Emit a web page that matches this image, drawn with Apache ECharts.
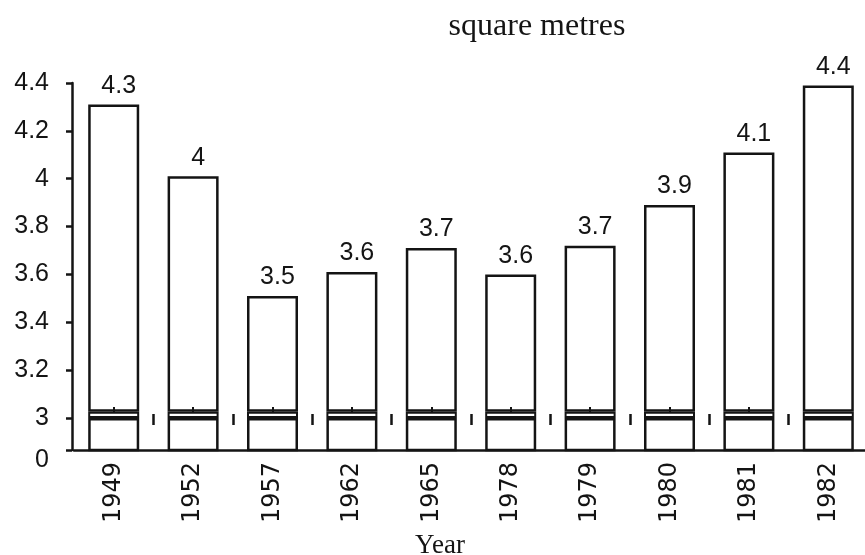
<!DOCTYPE html>
<html>
<head>
<meta charset="utf-8">
<script src="https://cdn.jsdelivr.net/npm/echarts@6/dist/echarts.min.js"></script>
<style>html,body{margin:0;padding:0;background:#fff;}#c{width:865px;height:555px;}</style>
</head>
<body>
<div id="c"></div>
<script>
// ---- data ----
const categories = ['1949', '1952', '1957', '1962', '1965', '1978', '1979', '1980', '1981', '1982'];
const values = [4.31, 4.01, 3.51, 3.61, 3.71, 3.60, 3.72, 3.89, 4.11, 4.39];
const yTickValues = [3, 3.2, 3.4, 3.6, 3.8, 4, 4.2, 4.4];
const zeroLabel = '0';
const breakValue = 3;      // axis is broken below this value
const breakGap = 0.026;    // height of the break strip
const axisBottom = 2.866;  // where the "0" of the broken axis sits
const yMax = 4.4;

// ---- build ----
const INK = '#141414';
const lowerPart = categories.map(() => breakValue);
const gapPart = categories.map(() => breakGap);
const upperPart = values.map(v => +(v - breakValue - breakGap).toFixed(4));
const fmtVal = v => String(Number(v.toFixed(1)));

const barBase = {
  type: 'bar', stack: 'b', barWidth: 51, clip: true, silent: true,
  itemStyle: { color: '#fff', borderColor: INK, borderWidth: 2.5 }
};

const chart = echarts.init(document.getElementById('c'));
chart.setOption({
  animation: false,
  backgroundColor: '#fff',
  grid: { left: 74, top: 83, width: 794, height: 367, containLabel: false, outerBoundsMode: 'none' },
  xAxis: [
    {
      type: 'category', data: categories, position: 'bottom', z: 5,
      axisLine: { show: true, lineStyle: { color: INK, width: 2.5 } },
      axisTick: { show: false },
      axisLabel: { rotate: 90, margin: 12, fontFamily: 'DejaVu Sans', fontSize: 24, color: INK }
    },
    {
      type: 'category', data: categories, position: 'bottom', offset: -25, z: 5,
      axisLine: { show: false },
      axisTick: { show: true, inside: true, length: 11, lineStyle: { color: INK, width: 2.5 },
                  interval: (i) => i > 0 },
      axisLabel: { show: false }
    },
    {
      type: 'category', data: categories, position: 'bottom', offset: -38, z: 5,
      axisLine: { show: false },
      axisTick: { show: true, inside: true, alignWithLabel: true, length: 5, lineStyle: { color: INK, width: 2 },
                  interval: (i) => i < categories.length - 1 },
      axisLabel: { show: false }
    }
  ],
  yAxis: {
    type: 'value', min: axisBottom, max: yMax, offset: 2,
    splitLine: { show: false },
    axisLine: { show: true, lineStyle: { color: INK, width: 2.5 } },
    axisTick: { show: true, length: 6, customValues: [axisBottom].concat(yTickValues), lineStyle: { color: INK, width: 2.5 } },
    axisLabel: {
      customValues: [axisBottom].concat(yTickValues),
      margin: 23, fontFamily: 'Liberation Sans', fontSize: 25, color: INK,
      formatter: v => (v < breakValue - 0.01 ? '{z|' + zeroLabel + '}' : String(v)),
      rich: { z: { fontFamily: 'Liberation Sans', fontSize: 25, color: INK, padding: [20, 0, 0, 0] } }
    }
  },
  series: [
    Object.assign({}, barBase, { name: 'lower', data: lowerPart }),
    Object.assign({}, barBase, { name: 'gap', data: gapPart, itemStyle: { color: '#fff', borderColor: INK, borderWidth: 2 } }),
    Object.assign({}, barBase, {
      name: 'upper', data: upperPart,
      label: {
        show: true, position: 'top', distance: 6, offset: [5, 0],
        fontFamily: 'Liberation Sans', fontSize: 25, color: INK,
        formatter: p => fmtVal(values[p.dataIndex])
      }
    })
  ],
  graphic: [
    { type: 'text', x: 537, y: 27, silent: true,
      style: { text: 'square metres', font: '32px "Liberation Serif"', fill: INK, textAlign: 'center', textVerticalAlign: 'middle' } },
    { type: 'text', x: 440, y: 546, silent: true,
      style: { text: 'Year', font: '27px "Liberation Serif"', fill: INK, textAlign: 'center', textVerticalAlign: 'middle' } }
  ]
});
</script>
</body>
</html>
